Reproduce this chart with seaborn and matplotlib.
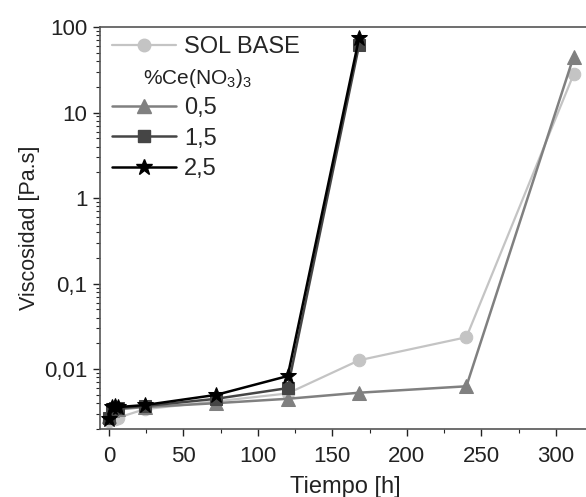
import matplotlib
matplotlib.use("Agg")
import matplotlib.pyplot as plt
import matplotlib.ticker as mticker
from matplotlib.lines import Line2D
import seaborn as sns
import pandas as pd

# ---- data ----
t_base = [0, 2, 4, 6, 24, 72, 120, 168, 240, 312]
v_base = [0.0025, 0.0026, 0.0026, 0.0027, 0.0034, 0.0042, 0.0052, 0.0127, 0.0236, 28]

t_05 = [0, 2, 4, 6, 24, 72, 120, 168, 240, 312]
v_05 = [0.0028, 0.0033, 0.0034, 0.0034, 0.0036, 0.0040, 0.0045, 0.0053, 0.0063, 45]

t_15 = [0, 2, 4, 6, 24, 72, 120, 168]
v_15 = [0.0027, 0.0034, 0.0035, 0.0035, 0.0037, 0.0045, 0.0060, 62]

t_25 = [0, 2, 4, 6, 24, 72, 120, 168]
v_25 = [0.0026, 0.0036, 0.0037, 0.0036, 0.0038, 0.0050, 0.0083, 75]

labels = ["SOL BASE", "0,5", "1,5", "2,5"]
x_ticks = [0, 50, 100, 150, 200, 250, 300]
y_ticks = [0.01, 0.1, 1, 10, 100]
y_tick_labels = ["0,01", "0,1", "1", "10", "100"]

sns.set_theme(style="white")
plt.rcParams["font.family"] = ["Liberation Sans", "DejaVu Sans"]
plt.rcParams["mathtext.fontset"] = "custom"
plt.rcParams["mathtext.rm"] = "Liberation Sans"
plt.rcParams["mathtext.it"] = "Liberation Sans"

fig = plt.figure(figsize=(5.86, 4.97), dpi=100)
W, H = 586, 497
ax = fig.add_axes([100 / W, (H - 429) / H, 490 / W, 402 / H])

styles = [
    (t_base, v_base, "#c4c4c4", "o", 9, 1.6),
    (t_05, v_05, "#808080", "^", 10, 1.8),
    (t_15, v_15, "#454545", "s", 8, 1.8),
    (t_25, v_25, "#000000", "*", 12, 1.8),
]
handles = []
for i, ((t, v, c, m, ms, lw), lab) in enumerate(zip(styles, labels)):
    df = pd.DataFrame({"t": t, "v": v})
    sns.lineplot(data=df, x="t", y="v", ax=ax, color=c, marker=m, markersize=ms,
                 markeredgecolor=c, linewidth=lw, zorder=2 + i, estimator=None,
                 sort=False, legend=False)
    handles.append(Line2D([], [], color=c, marker=m, markersize=ms,
                          markeredgecolor=c, linewidth=lw, label=lab))

ax.set_yscale("log")
ax.set_xlim(-6, 323)
ax.set_ylim(10 ** -2.70, 100)

ax.xaxis.set_major_locator(mticker.FixedLocator(x_ticks))
ax.xaxis.set_minor_locator(mticker.MultipleLocator(25))
ax.yaxis.set_major_locator(mticker.FixedLocator(y_ticks))
ax.yaxis.set_major_formatter(mticker.FixedFormatter(y_tick_labels))
ax.yaxis.set_minor_locator(mticker.LogLocator(base=10, subs=range(2, 10)))
ax.yaxis.set_minor_formatter(mticker.NullFormatter())

ax.tick_params(axis="both", which="major", direction="out", length=5, width=1,
               labelsize=16, colors="#222222", left=True, bottom=True, pad=4)
ax.tick_params(axis="x", which="major", pad=7)
ax.tick_params(axis="both", which="minor", direction="out", length=3, width=0.8,
               left=True, bottom=True)

for s in ["left", "bottom", "top"]:
    ax.spines[s].set_color("#555555")
    ax.spines[s].set_linewidth(1.2)
ax.spines["right"].set_visible(False)

ax.set_xlabel("Tiempo [h]", fontsize=17, color="#222222", labelpad=7)
ax.set_ylabel("Viscosidad [Pa.s]", fontsize=15.5, color="#222222", labelpad=3)

blank = Line2D([], [], color="none", label=" ")
leg_handles = [handles[0], blank, handles[1], handles[2], handles[3]]
ax.legend(handles=leg_handles, loc="upper left", bbox_to_anchor=(12 / 490, 1 - 9 / 402),
          frameon=False, fontsize=17, handlelength=2.7, handletextpad=0.35,
          labelspacing=0.36, borderaxespad=0, borderpad=0)
ax.text((143 - 100) / 490, (429 - 78) / 402, r"%Ce(NO$_3$)$_3$",
        transform=ax.transAxes, fontsize=15, va="center", ha="left", color="#222222")

fig.savefig("out.png", dpi=100)
